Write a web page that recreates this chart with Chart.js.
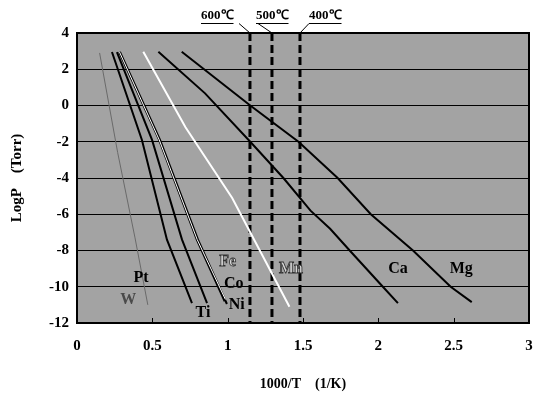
<!DOCTYPE html>
<html lang="en">
<head>
    <meta charset="UTF-8">
    <title>LogP vs 1000/T</title>
    <script src="https://cdn.jsdelivr.net/npm/chart.js"></script>
    <style>
        body { margin: 0; background: #fff; }
        #wrap { width: 533px; height: 402px; }
    </style>
</head>
<body>
<div id="wrap"><canvas id="myChart"></canvas></div>
<script>
    // curves: x = 1000/T (1/K), y = LogP (Torr)
    const wX  = [0.15, 0.27, 0.385, 0.47];
    const wY  = [2.9, -2.6, -7.3, -11];
    const ptX = [0.232, 0.431, 0.597, 0.763];
    const ptY = [2.95, -1.9, -7.4, -10.9];
    const tiX = [0.265, 0.498, 0.697, 0.863];
    const tiY = [2.95, -1.9, -7.4, -10.9];
    const feX = [0.282, 0.546, 0.798, 0.985];
    const feY = [2.95, -1.9, -7.4, -10.7];
    const coX = [0.28, 0.545, 0.795, 0.98];
    const coY = [2.95, -1.9, -7.4, -10.8];
    const niX = [0.285, 0.551, 0.803, 0.995];
    const niY = [2.95, -1.9, -7.4, -10.95];
    const mnX = [0.44, 0.72, 1.03, 1.41];
    const mnY = [2.97, -1.2, -5.1, -11.1];
    const caX = [0.54, 0.85, 1.15, 1.37, 1.55, 1.68, 1.81, 2.03, 2.13];
    const caY = [2.97, 0.67, -2, -4, -5.8, -6.8, -8, -10, -10.9];
    const mgX = [0.695, 1.15, 1.47, 1.73, 1.95, 2.23, 2.48, 2.62];
    const mgY = [2.97, 0, -2, -4, -6, -8, -10, -10.85];

    // temperature marks (dashed verticals)
    const tempLabels = ['600℃', '500℃', '400℃'];
    const tempX = [1.148, 1.294, 1.48];

    // element names written next to the curves
    const nameText = ['W', 'Pt', 'Ti', 'Fe', 'Co', 'Ni', 'Mn', 'Ca', 'Mg'];
    const nameX = [0.34, 0.425, 0.836, 1.0, 1.04, 1.06, 1.42, 2.13, 2.55];
    const nameY = [-10.7, -9.5, -11.45, -8.6, -9.85, -11.0, -9.0, -9.0, -9.0];

    const xTicks = [0, 0.5, 1, 1.5, 2, 2.5, 3];

    const serif = '"Liberation Serif", "Times New Roman", serif';

    function pts(xs, ys) {
        return xs.map((x, i) => ({ x: x, y: ys[i] }));
    }

    function curve(label, xs, ys, color, width) {
        return {
            label: label,
            data: pts(xs, ys),
            showLine: true,
            borderColor: color,
            borderWidth: width,
            pointRadius: 0,
            tension: 0
        };
    }

    const datasets = [
        curve('W', wX, wY, '#6a6a6a', 1),
        curve('Mn', mnX, mnY, '#ffffff', 2),
        curve('Fe', feX, feY, '#ffffff', 1),
        curve('Pt', ptX, ptY, '#000', 2),
        curve('Ti', tiX, tiY, '#000', 2),
        curve('Co', coX, coY, '#000', 2),
        curve('Ni', niX, niY, '#000', 2),
        curve('Ca', caX, caY, '#000', 2),
        curve('Mg', mgX, mgY, '#000', 2)
    ];
    tempX.forEach((t, i) => {
        datasets.push({
            label: tempLabels[i],
            data: [{ x: t, y: 4 }, { x: t, y: -12 }],
            showLine: true,
            borderColor: '#000',
            borderWidth: 3,
            borderDash: [8, 4],
            pointRadius: 0
        });
    });

    const decor = {
        id: 'decor',
        beforeDraw(chart) {
            const a = chart.chartArea, c = chart.ctx;
            c.save();
            c.fillStyle = '#a3a3a3';
            c.fillRect(a.left, a.top, a.right - a.left, a.bottom - a.top);
            c.restore();
        },
        afterDraw(chart) {
            const a = chart.chartArea, c = chart.ctx;
            const xs = chart.scales.x, ys = chart.scales.y;
            c.save();
            // plot frame
            c.strokeStyle = '#000';
            c.lineWidth = 2;
            c.strokeRect(a.left, a.top, a.right - a.left, a.bottom - a.top);
            // small inner ticks on the x axis
            c.lineWidth = 1;
            xTicks.forEach(v => {
                const px = Math.round(xs.getPixelForValue(v)) + 0.5;
                c.beginPath();
                c.moveTo(px, a.bottom);
                c.lineTo(px, a.bottom - 5);
                c.stroke();
            });
            // temperature labels with leaders
            c.font = 'bold 13px ' + serif;
            c.fillStyle = '#000';
            c.textBaseline = 'middle';
            const textLeft = [201, 256, 309];
            const leadFrom = [239, 258, 309];
            tempX.forEach((t, i) => {
                const px = xs.getPixelForValue(t);
                const w = c.measureText(tempLabels[i]).width;
                c.textAlign = 'left';
                c.fillText(tempLabels[i], textLeft[i], 16);
                c.beginPath();
                c.moveTo(textLeft[i], 23.5);
                c.lineTo(textLeft[i] + w, 23.5);
                c.moveTo(leadFrom[i], 23.5);
                c.lineTo(px, a.top);
                c.stroke();
            });
            // curve names
            c.textAlign = 'center';
            nameText.forEach((s, i) => {
                const px = xs.getPixelForValue(nameX[i]);
                const py = ys.getPixelForValue(nameY[i]);
                c.font = 'bold 16px ' + serif;
                if (s === 'Fe' || s === 'Mn') {
                    c.fillStyle = '#d8d8d8';
                    c.fillText(s, px, py);
                    c.strokeStyle = '#333';
                    c.lineWidth = 0.8;
                    c.strokeText(s, px, py);
                } else if (s === 'W') {
                    c.fillStyle = '#4a4a4a';
                    c.fillText(s, px, py);
                } else {
                    c.fillStyle = '#000';
                    c.fillText(s, px, py);
                }
            });
            c.restore();
        }
    };

    const ctx = document.getElementById('myChart').getContext('2d');
    const chart = new Chart(ctx, {
        type: 'scatter',
        data: { datasets: datasets },
        options: {
            responsive: true,
            maintainAspectRatio: false,
            animation: false,
            layout: { padding: { top: 33, right: 4, left: 0, bottom: 0 } },
            plugins: {
                legend: { display: false },
                tooltip: { enabled: false }
            },
            scales: {
                x: {
                    type: 'linear',
                    min: 0,
                    max: 3,
                    afterBuildTicks: s => { s.ticks = xTicks.map(v => ({ value: v })); },
                    afterFit: s => { s.height = 79; s.paddingLeft = 0; s.paddingRight = 0; },
                    grid: { display: false, drawTicks: false },
                    border: { display: false },
                    ticks: {
                        padding: 14,
                        color: '#000',
                        font: { family: serif, size: 15, weight: 'bold' },
                        maxRotation: 0,
                        callback: v => String(v)
                    },
                    title: {
                        display: true,
                        text: '1000/T　(1/K)',
                        color: '#000',
                        font: { family: serif, size: 14, weight: 'bold' },
                        padding: { top: 0, bottom: 9 }
                    }
                },
                y: {
                    min: -12,
                    max: 4,
                    afterFit: s => { s.width = 77; s.paddingTop = 0; s.paddingBottom = 0; },
                    grid: { color: '#000', lineWidth: 1, drawTicks: false },
                    border: { display: false },
                    ticks: {
                        stepSize: 2,
                        padding: 8,
                        color: '#000',
                        font: { family: serif, size: 15, weight: 'bold' }
                    },
                    title: {
                        display: true,
                        text: 'LogP　(Torr)',
                        color: '#000',
                        font: { family: serif, size: 15, weight: 'bold' },
                        padding: { top: 8, bottom: 0 }
                    }
                }
            }
        },
        plugins: [decor]
    });
</script>
</body>
</html>
